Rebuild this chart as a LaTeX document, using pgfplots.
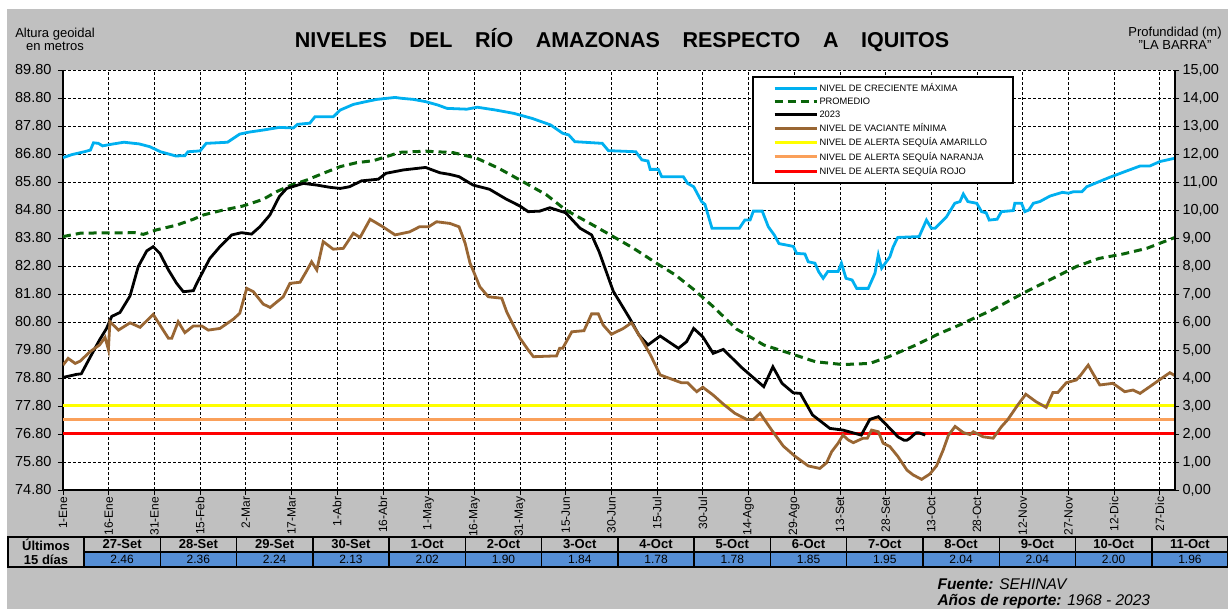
\documentclass[border=0pt]{standalone}
\usepackage{fontspec}
\setmainfont{Liberation Sans}
\usepackage{pgfplots}
\pgfplotsset{compat=1.18}
\definecolor{bg}{RGB}{192,192,192}
\definecolor{cmax}{RGB}{0,176,240}
\definecolor{cavg}{RGB}{10,100,10}
\definecolor{cmin}{RGB}{153,102,51}
\definecolor{cyel}{RGB}{255,255,0}
\definecolor{cora}{RGB}{250,160,90}
\definecolor{cred}{RGB}{255,0,0}
\definecolor{cblue}{RGB}{85,142,213}
\begin{document}
\begin{tikzpicture}[x=1pt,y=1pt]
\useasboundingbox (0,0) rectangle (1228,609);
\fill[white] (0,0) rectangle (1228,609);
\fill[bg] (7,0) rectangle (1228,600);
\begin{axis}[
  at={(63pt,119pt)}, anchor=south west,
  width=1112pt, height=420pt, scale only axis,
  xmin=1, xmax=366, ymin=74.8, ymax=89.8,
  axis background/.style={fill=white},
  axis x line*=bottom, axis y line*=left,
  axis line style={line width=1.6pt, black},
  tick align=outside, major tick length=5pt,
  tick style={black, line width=0.8pt},
  /pgf/number format/assume math mode=true,
  xtick={1,16,31,46,61,76,91,106,121,136,151,166,181,196,211,226,241,256,271,286,301,316,331,346,361},
  xticklabels={1-Ene,16-Ene,31-Ene,15-Feb,2-Mar,17-Mar,1-Abr,16-Abr,1-May,16-May,31-May,15-Jun,30-Jun,15-Jul,30-Jul,14-Ago,29-Ago,13-Set,28-Set,13-Oct,28-Oct,12-Nov,27-Nov,12-Dic,27-Dic},
  x tick label style={rotate=90, anchor=east, font=\fontsize{12}{12}\selectfont, inner sep=1.5pt},
  ytick={74.8,75.8,76.8,77.8,78.8,79.8,80.8,81.8,82.8,83.8,84.8,85.8,86.8,87.8,88.8,89.8},
  yticklabel style={font=\fontsize{14.5}{15}\selectfont, xshift=-3pt, /pgf/number format/fixed, /pgf/number format/fixed zerofill, /pgf/number format/precision=2},
  grid=major,
  major grid style={black, line width=0.75pt, dash pattern=on 3pt off 2pt},
  legend style={at={(0.6196,0.9857)}, anchor=north west, draw=black, line width=2pt, fill=white,
    font=\fontsize{9.3}{9}\selectfont, inner xsep=20pt, inner ysep=5pt, row sep=1.8pt,
    nodes={inner sep=1.5pt}, cells={anchor=west},
    /tikz/every even column/.append style={column sep=7pt}},
  legend image code/.code={\draw[#1] (0pt,0pt) -- (42pt,0pt);},
]
% alert levels (drawn underneath)
\addplot[cyel, line width=3pt, forget plot] coordinates {(1,77.8) (366,77.8)};
\addplot[cora, line width=3pt, forget plot] coordinates {(1,77.3) (366,77.3)};
\addplot[cred, line width=3pt, forget plot] coordinates {(1,76.8) (366,76.8)};
% maximum
\addplot[cmax, line width=2.8pt] coordinates {
(1,86.67) (4,86.78) (8,86.88) (10,86.94) (11,87.2) (12.6,87.18) (14,87.09) (17,87.15) (21,87.22) (26,87.16) (29.5,87.06) (33,86.88) (38,86.73) (41,86.74) (42,86.88) (46,86.91) (48,87.18) (55,87.22) (59,87.51) (62,87.58) (67,87.66) (72,87.75) (76.6,87.73) (78,87.86) (82,87.9) (83.7,88.13) (89.7,88.13) (92,88.37) (96.3,88.57) (100,88.66) (104,88.75) (110,88.82) (112,88.79) (116,88.75) (120,88.67) (124,88.55) (127,88.43) (133.5,88.40) (137,88.47) (143,88.37) (149,88.25) (155,88.07) (161,87.84) (165,87.54) (167,87.48) (169,87.24) (178,87.18) (180,86.92) (189,86.88) (191,86.59) (193,86.55) (193.7,86.25) (196.4,86.25) (197.5,85.99) (204.6,85.99) (206,85.75) (208,85.63) (210.6,85.1) (211.7,85.0) (214,84.15) (223,84.15) (224.8,84.44) (226.5,84.44) (227.6,84.76) (230.5,84.76) (232.5,84.2) (234.5,83.9) (236,83.6) (240.7,83.5) (241.8,83.25) (244.5,83.23) (245.6,82.95) (247.8,82.9) (249,82.6) (250.5,82.36) (252,82.6) (255.4,82.6) (256.5,82.9) (258,82.36) (260,82.3) (261.5,82.0) (265.3,82.0) (267.5,82.54) (268.6,83.19) (269.7,82.72) (272.4,83.13) (273.5,83.49) (275,83.82) (282,83.85) (284.4,84.44) (286,84.15) (287.3,84.15) (291,84.56) (293.7,85.04) (295.4,85.1) (296.5,85.37) (298,85.1) (300.9,85.04) (302.5,84.74) (304,84.7) (305,84.44) (307.6,84.47) (309,84.74) (312.9,84.78) (313.4,85.04) (315.6,85.04) (316.7,84.74) (318,84.8) (319.5,85.04) (321.6,85.1) (325,85.3) (329,85.43) (331,85.40) (332.6,85.45) (335.4,85.45) (337,85.63) (344.6,85.97) (351,86.23) (354.5,86.37) (357.7,86.37) (361,86.53) (366,86.65)};
\addlegendentry{NIVEL DE CRECIENTE MÁXIMA}
% average
\addplot[cavg, line width=3pt, dash pattern=on 8pt off 5pt] coordinates {
(1,83.85) (6.6,83.97) (12,83.98) (16.5,83.98) (24.6,83.99) (27.4,83.93) (31.7,84.09) (38.3,84.26) (43.8,84.47) (47,84.62) (53.6,84.8) (60,84.94) (66.7,85.18) (71,85.45) (75.5,85.67) (81,85.87) (86.4,86.11) (92,86.35) (97.4,86.49) (102.8,86.56) (107,86.7) (111.6,86.86) (120,86.9) (129,86.85) (136.8,86.65) (144,86.29) (151,85.87) (159.7,85.34) (166,84.8) (174,84.32) (181.6,83.85) (188,83.45) (195.8,82.9) (202,82.48) (207.8,81.98) (214.4,81.35) (222,80.55) (226.5,80.27) (231,79.98) (239.6,79.68) (248,79.38) (257,79.28) (265.8,79.32) (272,79.56) (281,79.98) (287.7,80.34) (290,80.45) (296.5,80.75) (298.7,80.87) (306,81.23) (316,81.82) (323.7,82.24) (333.6,82.78) (341,83.07) (349,83.23) (356.7,83.43) (366,83.82)};
\addlegendentry{PROMEDIO}
% 2023
\addplot[black, line width=2.8pt] coordinates {
(1,78.82) (5.5,78.93) (7,78.95) (10,79.56) (13,80.16) (15.3,80.57) (17,81.0) (19.7,81.14) (23,81.73) (25.7,82.78) (28.5,83.34) (30.6,83.49) (32.8,83.25) (35.6,82.66) (38.3,82.18) (40.5,81.88) (43.8,81.92) (44.9,82.18) (49.2,83.07) (52.5,83.49) (56.4,83.91) (59.6,83.99) (62.9,83.94) (65.6,84.2) (68.9,84.62) (72,85.28) (74.4,85.57) (79.9,85.75) (84.3,85.69) (88.6,85.61) (92,85.57) (95,85.63) (99,85.84) (104.5,85.9) (107,86.11) (112.7,86.23) (120,86.32) (124.7,86.13) (128,86.07) (131,85.99) (135.6,85.69) (141,85.54) (146.6,85.18) (151,84.94) (153.7,84.74) (157.5,84.76) (160.8,84.88) (166,84.7) (170.7,84.15) (174.5,83.91) (177,83.3) (181.6,81.9) (187,80.93) (190,80.34) (193,79.98) (197,80.3) (203,79.86) (205.7,80.1) (208,80.57) (211,80.27) (214.4,79.68) (217.7,79.82) (224,79.15) (231,78.49) (234,79.2) (237,78.61) (240.7,78.27) (243,78.25) (247,77.48) (252.7,77.0) (257,76.94) (263,76.76) (265.8,77.32) (268.6,77.42) (270,77.26) (271,77.16) (272,77.04) (273,76.93) (274,76.82) (275,76.70) (276,76.64) (277,76.58) (278,76.58) (279,76.65) (280,76.75) (281,76.84) (282,76.84) (283,76.80) (284,76.76)};
\addlegendentry{2023}
% minimum
\addplot[cmin, line width=2.8pt] coordinates {
(1,79.26) (2.7,79.5) (5,79.32) (6.6,79.40) (9.9,79.74) (13,79.98) (14.8,80.25) (15.9,79.82) (16.4,80.81) (19.2,80.51) (23,80.77) (26.3,80.61) (30.6,81.07) (35.6,80.22) (36.7,80.22) (38.8,80.81) (41,80.42) (43.8,80.66) (46.5,80.66) (48.7,80.51) (52.5,80.57) (56.9,80.9) (59,81.11) (61.3,82.0) (63.5,81.88) (66.7,81.44) (69,81.32) (71,81.5) (73.3,81.7) (75.5,82.18) (78.8,82.22) (81,82.63) (82.6,82.95) (84.3,82.66) (86.4,83.67) (89.7,83.4) (93,83.43) (96.3,83.97) (98.5,83.82) (101.8,84.47) (106,84.2) (110,83.91) (114.8,84.02) (118,84.2) (121,84.2) (123.6,84.38) (128,84.32) (131,84.2) (133,83.61) (134.6,82.9) (136,82.54) (137.8,82.06) (140.6,81.7) (145,81.65) (146.6,81.17) (148.8,80.69) (151,80.22) (153.7,79.8) (155.4,79.56) (163,79.59) (164,79.86) (165,79.86) (168,80.45) (172,80.49) (174.5,81.09) (176.7,81.09) (178.3,80.69) (181,80.36) (184.9,80.57) (187.6,80.77) (190.4,80.27) (193.7,79.65) (197,78.91) (200,78.79) (204,78.63) (206,78.63) (209,78.31) (211,78.47) (214.4,78.19) (217.7,77.87) (221.5,77.54) (225.4,77.32) (227.6,77.32) (229.8,77.54) (233.6,76.94) (237.4,76.37) (241.2,76.01) (245.6,75.66) (249.4,75.57) (251.6,75.77) (253.3,76.17) (255.4,76.47) (257,76.76) (258.7,76.59) (260.4,76.49) (263.6,76.65) (265,76.65) (266.4,76.94) (268.6,76.88) (270.2,76.47) (272.4,76.35) (275,76.0) (278,75.51) (280,75.34) (282.8,75.18) (285.5,75.37) (287.7,75.66) (289.9,76.23) (291.6,76.75) (293.8,77.07) (296.5,76.85) (298.7,76.78) (299.8,76.88) (303,76.7) (306.3,76.65) (309,77.06) (311,77.3) (314.4,77.84) (317,78.22) (320.4,77.95) (323.7,77.75) (325.9,78.28) (327.5,78.28) (330.3,78.63) (333.6,78.73) (335,78.9) (337.5,79.26) (339,78.97) (341.3,78.55) (345.6,78.61) (349.5,78.31) (352.2,78.37) (354.5,78.25) (357.7,78.49) (361.6,78.79) (364.3,78.99) (366,78.88)};
\addlegendentry{NIVEL DE VACIANTE MÍNIMA}
\addlegendimage{cyel, line width=3pt}
\addlegendentry{NIVEL DE ALERTA SEQUÍA AMARILLO\hspace*{4pt}}
\addlegendimage{cora, line width=3pt}
\addlegendentry{NIVEL DE ALERTA SEQUÍA NARANJA}
\addlegendimage{cred, line width=3pt}
\addlegendentry{NIVEL DE ALERTA SEQUÍA ROJO}
\end{axis}
\begin{axis}[
  at={(63pt,119pt)}, anchor=south west,
  width=1112pt, height=420pt, scale only axis,
  xmin=1, xmax=366, ymin=0, ymax=15,
  hide x axis, axis y line*=right,
  axis line style={line width=1.2pt, black},
  tick align=outside, major tick length=4pt,
  tick style={black, line width=0.8pt},
  /pgf/number format/assume math mode=true,
  ytick={0,1,2,3,4,5,6,7,8,9,10,11,12,13,14,15},
  yticklabel style={font=\fontsize{14.5}{15}\selectfont, /pgf/number format/fixed, /pgf/number format/fixed zerofill, /pgf/number format/precision=2, /pgf/number format/use comma},
]
\addplot[draw=none] coordinates {(1,0) (366,15)};
\end{axis}
% titles
\node[font=\bfseries\fontsize{21.5}{21.5}\selectfont] at (622,569) {NIVELES\hspace{1.05em}DEL\hspace{1.05em}RÍO\hspace{1.05em}AMAZONAS\hspace{1.05em}RESPECTO\hspace{1.05em}A\hspace{1.05em}IQUITOS};
\node[font=\fontsize{13}{13}\selectfont, align=center] at (55,570) {Altura geoidal\\en metros};
\node[font=\fontsize{13}{11}\selectfont, align=center] at (1175,571) {Profundidad (m)\\"LA BARRA"};
% table
\fill[bg] (8,42) rectangle (84,72);
\draw[line width=1.5pt] (8,42) rectangle (84,72);
\node[font=\bfseries\fontsize{13}{13}\selectfont] at (46,64.5) {Últimos};
\node[font=\bfseries\fontsize{13}{13}\selectfont] at (46,49.5) {15 días};
\foreach \d/\v [count=\i from 0] in {27-Set/2.46,28-Set/2.36,29-Set/2.24,30-Set/2.13,1-Oct/2.02,2-Oct/1.90,3-Oct/1.84,4-Oct/1.78,5-Oct/1.78,6-Oct/1.85,7-Oct/1.95,8-Oct/2.04,9-Oct/2.04,10-Oct/2.00,11-Oct/1.96} {
  \pgfmathsetmacro\xl{84+\i*76.27}
  \fill[cblue] (\xl,42) rectangle ++(76.27,15);
  \draw[line width=1.5pt] (\xl,42) rectangle ++(76.27,30);
  \draw[line width=1.5pt] (\xl,57) -- ++(76.27,0);
  \node[font=\bfseries\fontsize{13}{13}\selectfont] at (\xl+38.13,64.5) {\d};
  \node[font=\fontsize{12}{12}\selectfont] at (\xl+38.13,49.5) {\v};
}
% source
\node[anchor=west, font=\fontsize{15.5}{15.5}\selectfont] at (934,25) {\textbf{\textit{Fuente:}} \textit{SEHINAV}};
\node[anchor=west, font=\fontsize{15.5}{15.5}\selectfont] at (934,8) {\textbf{\textit{Años de reporte:}} \textit{1968 - 2023}};
\end{tikzpicture}
\end{document}
